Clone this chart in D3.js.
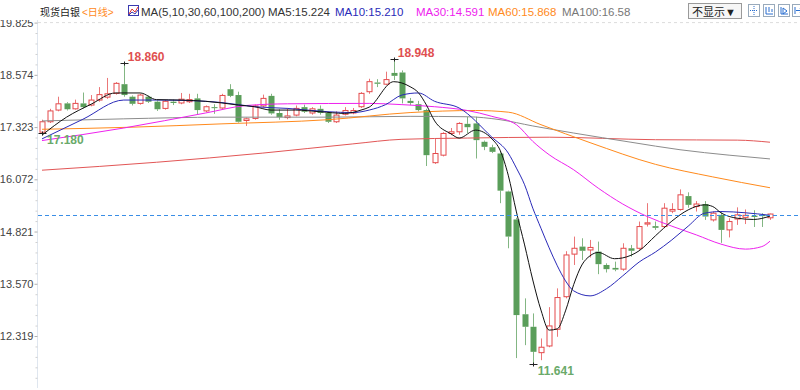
<!DOCTYPE html>
<html><head><meta charset="utf-8">
<script src="https://cdn.jsdelivr.net/npm/d3@7"></script>
<style>
body{margin:0;background:#fff;}
svg{display:block;font-family:"Liberation Sans",Arial,"Noto Sans CJK SC",sans-serif;}
</style>
</head><body><svg id="c" width="800" height="390"></svg>
<script>
// ---------- data ----------
const opens  = [17.20,17.45,17.73,17.89,17.76,17.89,17.85,17.97,18.04,18.13,18.35,18.05,17.89,18.05,17.93,17.77,17.93,17.90,17.93,18.01,
                17.71,17.80,17.78,18.23,18.09,17.48,17.53,17.83,18.07,17.66,17.55,17.61,17.80,17.66,17.76,17.66,17.45,17.63,17.66,17.81,
                18.17,18.39,18.35,18.62,18.63,17.95,17.87,17.73,16.47,16.65,17.17,17.21,17.40,17.41,16.97,16.84,16.69,15.78,15.11,12.84,
                12.54,11.92,12.08,12.48,13.26,14.28,14.46,14.38,14.34,14.02,13.95,13.92,14.42,14.42,15.00,14.95,14.94,15.31,15.35,15.67,
                15.42,15.48,15.10,15.22,14.86,15.12,15.16,15.20,15.22,15.15];
const highs  = [17.50,17.76,18.05,17.92,17.98,18.15,18.09,18.28,18.50,18.40,18.86,18.08,18.12,18.08,17.96,17.97,17.98,18.14,18.12,18.12,
                17.84,17.87,18.12,18.35,18.17,17.55,17.86,18.10,18.12,17.75,17.78,17.84,17.86,17.80,17.84,17.70,17.70,17.80,17.78,18.16,
                18.48,18.47,18.65,18.948,18.68,18.02,17.95,17.76,17.05,17.20,17.30,17.44,17.57,17.57,17.00,16.90,16.75,15.80,15.15,13.22,
                12.86,12.26,13.01,13.46,14.35,14.70,14.66,14.62,14.58,14.06,14.10,14.54,14.50,15.06,15.50,15.06,15.50,15.50,15.83,15.76,
                15.55,15.55,15.30,15.28,15.14,15.40,15.35,15.33,15.26,15.25];
const lows   = [17.18,17.42,17.70,17.72,17.74,17.77,17.82,17.93,18.00,18.10,18.05,17.84,17.86,17.90,17.71,17.74,17.85,17.87,17.90,17.63,
                17.68,17.64,17.76,18.04,17.43,17.35,17.50,17.80,17.62,17.50,17.51,17.58,17.66,17.62,17.62,17.42,17.42,17.60,17.63,17.78,
                18.12,18.28,18.33,18.45,17.89,17.85,17.70,16.39,16.44,16.62,17.13,17.14,17.18,16.57,16.77,16.70,15.50,14.42,11.79,12.10,
                11.641,11.74,12.05,12.30,13.22,14.02,14.14,14.20,13.80,13.84,13.87,13.88,14.22,14.38,14.94,14.86,14.90,15.26,15.32,15.39,
                15.30,15.10,15.06,14.55,14.68,14.98,15.00,14.93,14.93,15.10];
const closes = [17.45,17.71,17.88,17.75,17.89,17.80,17.97,18.10,18.12,18.37,18.09,17.88,18.09,17.93,17.75,17.94,17.90,17.99,17.98,17.73,
                17.81,17.78,18.08,18.07,17.45,17.52,17.83,18.01,17.65,17.56,17.59,17.77,17.69,17.76,17.66,17.45,17.61,17.72,17.72,18.13,
                18.41,18.36,18.46,18.55,18.01,17.90,17.73,16.65,16.69,17.17,17.21,17.41,17.32,17.01,16.85,16.73,15.80,14.70,12.82,12.54,
                11.94,12.05,12.56,13.24,14.26,14.42,14.36,14.44,14.04,13.92,13.91,14.42,14.36,14.94,15.03,14.91,15.38,15.35,15.70,15.46,
                15.48,15.18,15.26,14.86,15.06,15.22,15.21,15.17,15.19,15.24];

// moving-average lines as [candle index, value]
const ma5Pts = [[0,17.13],[3,17.56],[6,17.87],[9,18.14],[12,18.14],[14,17.98],[17,17.97],[20,17.94],[22,17.90],[24,17.85],[26,17.81],
                [28,17.73],[31,17.73],[34,17.69],[37,17.65],[39,17.73],[40,17.80],[43,18.41],[45,18.29],[46,18.15],[47,17.85],[48,17.47],
                [50,17.16],[51,17.06],[53,17.25],[55,17.04],[56,16.77],[57,16.17],[58,15.29],[59,14.50],[60,13.66],[61,12.94],[62,12.46],
                [63,12.49],[64,12.92],[65,13.55],[66,14.02],[67,14.24],[68,14.32],[70,14.17],[71,14.19],[73,14.36],[75,14.72],[77,15.07],
                [79,15.34],[81,15.46],[82,15.42],[83,15.27],[85,15.14],[87,15.11],[89,15.19]];
const ma10Pts = [[0,17.04],[5,17.51],[10,17.97],[14,17.97],[19,17.95],[22,17.91],[26,17.81],[30,17.77],[35,17.69],[38,17.67],[40,17.73],
                 [42,17.86],[44,18.09],[46,18.14],[48,17.94],[51,17.78],[55,17.08],[57,16.70],[58,16.34],[59,15.94],[60,15.38],[61,14.90],
                 [62,14.43],[63,14.00],[64,13.64],[65,13.40],[67,13.28],[69,13.45],[71,13.76],[73,14.09],[75,14.33],[77,14.62],[79,14.95],
                 [81,15.26],[83,15.30],[86,15.27],[89,15.21]];
const ma30Pts = [[0,17.00],[10,17.30],[20,17.66],[25,17.84],[30,17.88],[40,17.89],[44,17.86],[48,17.81],[52,17.72],[55,17.58],[58,17.38],
                 [60,16.98],[62,16.66],[65,16.30],[68,15.86],[71,15.48],[74,15.18],[77,14.95],[80,14.74],[83,14.52],[86,14.40],[88,14.46],[89,14.59]];
const ma60Pts = [[0,17.27],[11,17.32],[22,17.40],[35,17.50],[45,17.67],[53,17.72],[57,17.68],[61,17.38],[67,16.95],[75,16.43],[82,16.13],[89,15.87]];
const ma100Pts = [[0,17.47],[10,17.52],[22,17.56],[35,17.56],[45,17.58],[52,17.57],[56,17.50],[60,17.35],[65,17.18],[72,16.96],[78,16.78],[84,16.65],[89,16.56]];
const ma200Pts = [[0,16.29],[14,16.48],[27,16.70],[38,16.92],[44,17.03],[52,17.06],[62,17.08],[75,17.02],[85,17.01],[89,16.96]];

const yTickValues = [19.825,18.574,17.323,16.072,14.821,13.570,12.319];
const lastPrice = 15.22;
const highMarks = [{i:10,v:18.860},{i:43,v:18.948}];
const lowMarks  = [{i:0,v:17.180},{i:60,v:11.641}];
const legendItems = [
  {t:"MA5:15.224",  c:"#333333", x:268},
  {t:"MA10:15.210", c:"#2a2ab8", x:335},
  {t:"MA30:14.591", c:"#ee22ee", x:416},
  {t:"MA60:15.868", c:"#ff8a1c", x:488},
  {t:"MA100:16.58", c:"#777777", x:562}
];

// ---------- chart ----------
const svg = d3.select("#c");
const x = d3.scaleLinear().domain([0, 89]).range([42, 770]);
const y = d3.scaleLinear().domain([12.319, 19.825]).range([336, 22.6]);
const RED = "#e4494b", GREEN = "#5a9e5a";

// top dashed grid line
svg.append("line").attr("x1",38).attr("x2",800).attr("y1",y(19.825)).attr("y2",y(19.825))
  .attr("stroke","#dcdcdc").attr("stroke-dasharray","3,3");

// y axis
const axisG = svg.append("g").attr("transform","translate(37.5,0)");
axisG.append("line").attr("x1",0).attr("x2",0).attr("y1",20).attr("y2",388).attr("stroke","#dfe6ef");
const minor = [];
for (let k = 0; k < yTickValues.length; k++) {
  for (let s = 1; s < 5; s++) minor.push(yTickValues[k] - s * (yTickValues[0]-yTickValues[1]) / 5);
}
const mg = axisG.append("g").call(d3.axisLeft(y).tickValues(minor.filter(v=>y(v)<388)).tickSize(2).tickFormat(""));
mg.select(".domain").remove();
mg.selectAll("line").attr("stroke","#d0d0d0");
const ag = axisG.append("g").call(d3.axisLeft(y).tickValues(yTickValues).tickSize(3).tickPadding(1).tickFormat(d3.format(".3f")));
ag.select(".domain").remove();
ag.selectAll("line").attr("stroke","#b0b0b0");
ag.selectAll("text").attr("fill","#444").style("font-size","11px").style("font-family","'Liberation Sans',Arial,sans-serif");

// candles
const idx = d3.range(closes.length);
const cg = svg.append("g");
idx.forEach(i => {
  const cx = Math.round(x(i)) + 0.5;
  const up = closes[i] >= opens[i];
  const col = up ? RED : GREEN;
  const top = y(Math.max(opens[i], closes[i])), bot = y(Math.min(opens[i], closes[i]));
  cg.append("line").attr("x1",cx).attr("x2",cx).attr("y1",y(highs[i])).attr("y2",top)
    .attr("stroke",col).attr("stroke-opacity",0.75);
  cg.append("line").attr("x1",cx).attr("x2",cx).attr("y1",bot).attr("y2",y(lows[i]))
    .attr("stroke",col).attr("stroke-opacity",0.75);
  const h = Math.max(1, bot - top);
  if (up) {
    cg.append("rect").attr("x",cx-2.5).attr("y",top).attr("width",5).attr("height",h)
      .attr("fill","#fff").attr("stroke",col);
  } else {
    cg.append("rect").attr("x",cx-3).attr("y",top).attr("width",6).attr("height",h)
      .attr("fill",col);
  }
});

// MA lines
const line = d3.line().x(d => x(d[0])).y(d => y(d[1])).curve(d3.curveMonotoneX);
const maSeries = [
  {pts:ma200Pts, c:"#e25656"},
  {pts:ma100Pts, c:"#8c8c8c"},
  {pts:ma60Pts,  c:"#ff8a1c"},
  {pts:ma30Pts,  c:"#ee22ee"},
  {pts:ma10Pts,  c:"#2a2ab8"},
  {pts:ma5Pts,   c:"#111111"}
];
maSeries.forEach(s => {
  svg.append("path").attr("d", line(s.pts)).attr("fill","none").attr("stroke",s.c).attr("stroke-width",1);
});

// last price dashed line
svg.append("line").attr("x1",38).attr("x2",800).attr("y1",Math.round(y(lastPrice))+0.5).attr("y2",Math.round(y(lastPrice))+0.5)
  .attr("stroke","#3a8ee6").attr("stroke-dasharray","4,3");

// high / low markers
function marker(i, v) {
  const cx = Math.round(x(i)) + 0.5, cy = Math.round(y(v)) + 0.5;
  svg.append("line").attr("x1",cx-4).attr("x2",cx+4).attr("y1",cy).attr("y2",cy).attr("stroke","#222");
  svg.append("line").attr("x1",cx).attr("x2",cx).attr("y1",cy-2).attr("y2",cy+2).attr("stroke","#222");
}
highMarks.forEach(m => {
  marker(m.i, m.v);
  svg.append("text").attr("x", x(m.i)+4).attr("y", y(m.v)-2).text(d3.format(".3f")(m.v))
    .attr("fill","#e05050").style("font-size","12px").style("font-weight","bold");
});
lowMarks.forEach(m => {
  marker(m.i, m.v);
  svg.append("text").attr("x", x(m.i)+5).attr("y", y(m.v)+11).text(d3.format(".3f")(m.v))
    .attr("fill","#6aaa6a").style("font-size","12px").style("font-weight","bold");
});

// ---------- header ----------
const hd = svg.append("g").style("font-size","11.5px");
hd.append("rect").attr("x",0).attr("y",0).attr("width",800).attr("height",20).attr("fill","#fff");
hd.append("text").attr("x",40).attr("y",16).attr("fill","#222").style("font-size","10px").text("现货白银");
hd.append("text").attr("x",82).attr("y",16).attr("fill","#ff8a1c").style("font-size","10px").text("<日线>");
// small icon
const ic = hd.append("g").attr("transform","translate(128,5)");
ic.append("rect").attr("x",0.5).attr("y",0.5).attr("width",10).attr("height",10).attr("fill","none").attr("stroke","#3a3ab0");
ic.append("polyline").attr("points","1,9 4,4 7,7 10,2").attr("fill","none").attr("stroke","#e03030");
ic.append("polyline").attr("points","1,10 4,7 7,9 10,5").attr("fill","none").attr("stroke","#3a3ab0");
hd.append("text").attr("x",141).attr("y",16).attr("fill","#333").text("MA(5,10,30,60,100,200)");
legendItems.forEach(l => hd.append("text").attr("x",l.x).attr("y",16).attr("fill",l.c).text(l.t));
// button
hd.append("rect").attr("x",688.5).attr("y",3.5).attr("width",53).attr("height",15).attr("fill","#f6f6f6").attr("stroke","#9a9a9a");
hd.append("text").attr("x",692).attr("y",15.5).attr("fill","#222").style("font-size","11px").text("不显示▼");
// tool icons
[748,763,778,792].forEach((ix,k) => {
  const g = hd.append("g").attr("transform",`translate(${ix},4)`);
  g.append("rect").attr("x",0.5).attr("y",0.5).attr("width",11).attr("height",12).attr("fill","#fff").attr("stroke","#9ab");
  if (k===0) { g.append("path").attr("d","M6,2V11M2,6.5H10").attr("stroke","#2a6fd0").attr("stroke-dasharray","1,1"); }
  if (k===1) { g.append("path").attr("d","M3,3V10H10M6,3V8M9,5V8").attr("stroke","#2a6fd0").attr("fill","none"); }
  if (k===2) { g.append("path").attr("d","M3,3V10H10M5,4L9,7L5,10Z").attr("stroke","#2a6fd0").attr("fill","none"); }
  if (k===3) { g.append("path").attr("d","M3,3V10M4,6.5H10M8,4.5L10,6.5L8,8.5").attr("stroke","#2a6fd0").attr("fill","none"); }
});
</script>
</body></html>
